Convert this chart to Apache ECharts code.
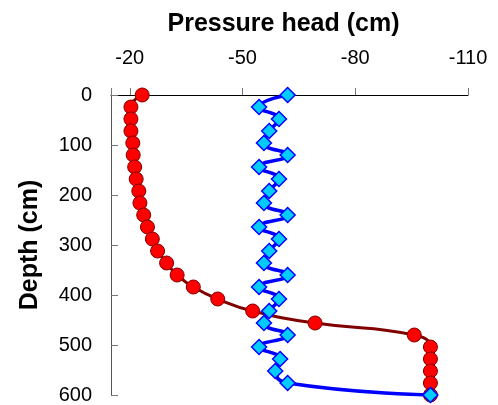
<!DOCTYPE html>
<html>
<head>
<meta charset="utf-8">
<script src="https://cdn.jsdelivr.net/npm/echarts@6/dist/echarts.min.js"></script>
<style>
  html, body { margin: 0; padding: 0; background: #fff; }
  #chart { width: 498px; height: 405px; }
</style>
</head>
<body>
<div id="chart"></div>
<script>
// depth of each measurement (cm)
const depths = [0, 24, 48, 72, 96, 120, 144, 168, 192, 216, 240, 264, 288, 312, 336, 360, 384, 408, 432, 456, 480, 504, 528, 552, 576, 600];
// pressure head (cm), red circles
const redHead = [-23.3, -20.3, -20.3, -20.3, -20.8, -20.9, -21.3, -21.7, -22.4, -22.7, -23.7, -24.7, -26.0, -27.4, -29.8, -32.6, -36.9, -43.4, -52.7, -69.3, -95.7, -100, -100, -100, -100, -100];
// pressure head (cm), blue diamonds
const blueHead = [-62, -54.4, -59.7, -57.1, -55.7, -62, -54.4, -59.7, -57.1, -55.7, -62, -54.4, -59.7, -57.1, -55.7, -62, -54.4, -59.7, -57.1, -55.7, -62, -54.4, -60, -58.7, -62, -100];
const xTicks = [-20, -50, -80, -110];

const font = 'Arial, "Liberation Sans", sans-serif';
const chart = echarts.init(document.getElementById('chart'));

chart.setOption({
  backgroundColor: '#fff',
  animation: false,
  grid: { left: 111, right: 30, top: 95, bottom: 8 },
  xAxis: {
    type: 'value', position: 'top', inverse: true,
    min: -110, max: -15, interval: 30,
    name: 'Pressure head (cm)', nameLocation: 'middle', nameGap: 58,
    nameTextStyle: { fontFamily: font, fontSize: 25, fontWeight: 'bold', color: '#000', padding: [0, 12, 0, 0] },
    axisLine: { lineStyle: { color: '#000', width: 1 } },
    axisTick: { length: 7, lineStyle: { color: '#777' } },
    axisLabel: {
      margin: 27, fontFamily: font, fontSize: 20, color: '#000',
      formatter: v => xTicks.includes(v) ? String(v) : ''
    },
    splitLine: { show: false }
  },
  yAxis: {
    type: 'value', inverse: true, min: 0, max: 600, interval: 100,
    name: 'Depth (cm)', nameLocation: 'middle', nameGap: 68, nameRotate: 90,
    nameTextStyle: { fontFamily: font, fontSize: 25, fontWeight: 'bold', color: '#000' },
    axisLine: { lineStyle: { color: '#555', width: 1 } },
    axisTick: { inside: true, length: 7, lineStyle: { color: '#777' } },
    axisLabel: { margin: 19, fontFamily: font, fontSize: 20, color: '#000' },
    splitLine: { show: false }
  },
  series: [
    {
      type: 'line', smooth: 0.5,
      data: redHead.map((h, i) => [h, depths[i]]),
      lineStyle: { color: '#800000', width: 3 },
      symbol: 'circle', symbolSize: 14,
      itemStyle: { color: '#ff0000', borderColor: '#800000', borderWidth: 1 }
    },
    {
      type: 'line', smooth: 0.5,
      data: blueHead.map((h, i) => [h, depths[i]]),
      lineStyle: { color: '#0000ff', width: 3.5 },
      symbol: 'diamond', symbolSize: 15,
      itemStyle: { color: '#00ccff', borderColor: '#0000ff', borderWidth: 1.5 }
    }
  ]
});
</script>
</body>
</html>
